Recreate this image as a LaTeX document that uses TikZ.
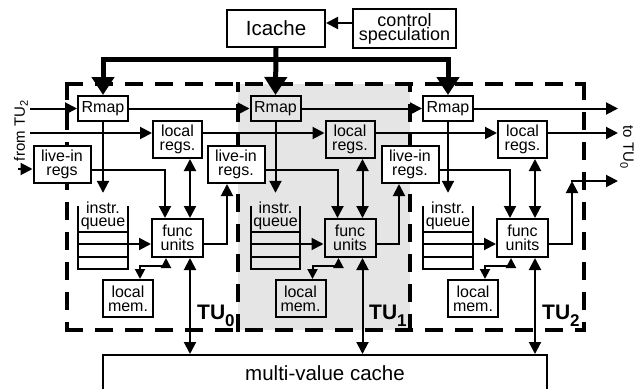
\documentclass[tikz,border=0pt]{standalone}
\usepackage{fontspec}
\setmainfont{Liberation Sans}
\usetikzlibrary{arrows.meta,calc}
\definecolor{tugray}{gray}{0.9}
\newcommand\lowsub[3]{\raisebox{-#1}{\fontsize{#2}{#2}\selectfont #3}}
\begin{document}
\begin{tikzpicture}[x=1pt,y=-1pt,
  box/.style={draw,line width=2pt,inner sep=0pt,align=center,font=\fontsize{16}{14}\selectfont},
  ln/.style={line width=2pt},
  arr/.style={ln,-{Triangle[length=12pt,width=12pt]}},
  darr/.style={ln,{Triangle[length=12pt,width=12pt]}-{Triangle[length=12pt,width=12pt]}},
  sdarr/.style={ln,{Triangle[length=10pt,width=10pt]}-{Triangle[length=10pt,width=10pt]}},
  bus/.style={line width=5pt},
  busarr/.style={bus,-{Triangle[length=18pt,width=22pt]}},
  tu/.style={line width=4.5pt,line cap=rect,dash pattern=on 14pt off 16pt},
  tulabel/.style={anchor=base west,inner sep=0pt,font=\bfseries\fontsize{21}{21}\selectfont},
  sidetext/.style={inner sep=0pt,font=\fontsize{15}{15}\selectfont},
]
\useasboundingbox (0,0) rectangle (642,388);
% TU1 shading and dashed TU borders
\fill[tugray] (238,84) rectangle (410,330);
\draw[tu] (67,84) -- (584,84);
\draw[tu] (67,84) -- (67,330);
\draw[tu] (584,84) -- (584,330);
\draw[tu] (67,330) -- (584,330);
\draw[tu] (238,330) -- (238,84);
\draw[tu] (410,330) -- (410,84);

% top blocks
\node[box,minimum width=98pt,minimum height=37pt,font=\fontsize{20.5}{20}\selectfont] (icache) at (276,28.5) {Icache};
\node[box,minimum width=103pt,minimum height=39pt,font=\fontsize{18}{14}\selectfont] (ctrl) at (404.5,28.5) {control\\speculation};
\draw[arr] ([yshift=5.5pt]ctrl.west) -- ([yshift=5.5pt]icache.east);

% multi-value cache
\node[box,minimum width=444pt,minimum height=40pt,font=\fontsize{20.5}{20}\selectfont] (cache) at (325,375) {};
\node[inner sep=0pt,font=\fontsize{20.5}{20}\selectfont] (cachetext) at (325,373) {multi-value cache};

% thread units
\foreach \i/\dx/\lr in {0/0/regs,1/172.5/regs.,2/345/regs.} {
  \node[box,minimum width=50pt,minimum height=25pt] (rmap\i) at ({103+\dx},108.5) {Rmap};
  \node[box,minimum width=49pt,minimum height=37pt] (local\i) at ({177.5+\dx},139.5) {local\\regs.};
  \node[box,minimum width=57pt,minimum height=37pt,fill=white] (liv\i) at ({62+174*\i},164.5) {live-in\\\lr};
  \node[box,minimum width=51pt,minimum height=38pt] (func\i) at ({177.5+\dx},238) {func\\units};
  \node[box,minimum width=50pt,minimum height=37pt] (mem\i) at ({128+\dx},298.5) {local\\mem.};
  \node[inner sep=0pt,minimum width=49pt,minimum height=63pt] (q\i) at ({103+\dx},237.5) {};
  \node[inner sep=0pt,align=center,font=\fontsize{16}{13.5}\selectfont] (qt\i) at ({103+\dx},216) {instr.\\queue};
  \draw[ln] (q\i.north west) -- (q\i.south west) -- (q\i.south east) -- (q\i.north east);
  \draw[ln] (q\i.west |- 0,232) -- (q\i.east |- 0,232);
  \draw[ln] (q\i.west |- 0,244) -- (q\i.east |- 0,244);
  \draw[ln] (q\i.west |- 0,256.5) -- (q\i.east |- 0,256.5);
  % connections inside a TU
  \draw[arr] (rmap\i.south) -- ([yshift=13pt]q\i.north);
  \draw[arr] (q\i.east |- 0,244) -- (func\i.west |- 0,244);
  \draw[darr] ([xshift=12.5pt]local\i.south) -- ([xshift=12.5pt]func\i.north);
  \draw[arr] ([yshift=-5.5pt]liv\i.east) -| ([xshift=-12.5pt]func\i.north);
  \draw[sdarr] ([xshift=12pt]mem\i.north) -- ++(0,-13) -| ([xshift=-11.5pt]func\i.south);
  \draw[darr] ([xshift=12.5pt]func\i.south) -- ([xshift=12.5pt]func\i.south |- cache.north);
}

% Icache bus
\coordinate (bus) at (276,59);
\draw[busarr] (icache.south) -- (rmap1.north);
\draw[busarr] (bus) -| (rmap0.north);
\draw[busarr] (bus) -| (rmap2.north);

% ring connections
\coordinate (fromA) at (30,108.5);
\coordinate (toA) at (618,108.5);
\coordinate (fromB) at (30,133);
\coordinate (toB) at (618,133);
\coordinate (fromC) at (18,169);
\coordinate (fo) at (572,181);
\coordinate (toC) at (618,181);
\draw[arr] (fromA) -- (rmap0.west);
\draw[arr] (rmap0.east) -- (rmap1.west);
\draw[arr] (rmap1.east) -- (rmap2.west);
\draw[arr] (rmap2.east) -- (toA);
\draw[arr] (fromB) -- ([yshift=6.5pt]local0.west);
\draw[arr] ([yshift=6.5pt]local0.east) -- ([yshift=6.5pt]local1.west);
\draw[arr] ([yshift=6.5pt]local1.east) -- ([yshift=6.5pt]local2.west);
\draw[arr] ([yshift=6.5pt]local2.east) -- (toB);
\draw[arr] (fromC) -- ([yshift=-4.5pt]liv0.west);
\draw[arr] ([yshift=-6pt]func0.east) -| ([xshift=-9pt]liv1.south);
\draw[arr] ([yshift=-6pt]func1.east) -| ([xshift=-11pt]liv2.south);
\draw[arr] ([yshift=-6pt]func2.east) -| (fo);
\draw[arr] ([xshift=-1pt]fo) -- (toC);

% labels
\node[sidetext,rotate=90] (fromtxt) at (21,131) {from TU\lowsub{3pt}{11}{2}};
\node[sidetext,rotate=-90] (totxt) at (627,147) {to TU\lowsub{3pt}{11}{0}};
\node[tulabel] (tu0) at (197,319) {TU\lowsub{7pt}{17}{0}};
\node[tulabel] (tu1) at (369,319) {TU\lowsub{7pt}{17}{1}};
\node[tulabel] (tu2) at (542,319) {TU\lowsub{7pt}{17}{2}};
\end{tikzpicture}
\end{document}
